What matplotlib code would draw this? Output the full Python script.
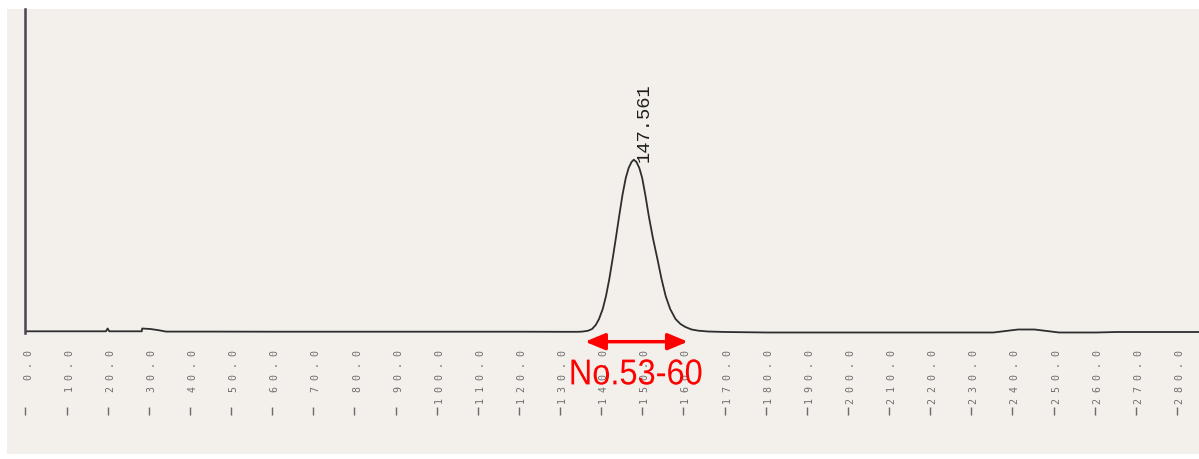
import numpy as np
import matplotlib.pyplot as plt
from matplotlib.patches import Rectangle, PathPatch
from matplotlib.textpath import TextPath
from matplotlib.font_manager import FontProperties
from matplotlib.transforms import (Affine2D, ScaledTranslation, blended_transform_factory,
                                   offset_copy)

# chromatogram trace (time in min, signal in arbitrary units)
time_min = [-0.5, 10.0, 19.2, 19.6, 20.0, 27.9, 28.0, 30.0, 32.0, 33.8, 45.0,
            60.0, 80.0, 100.0, 120.0, 130.0, 134.0, 135.0, 136.4, 137.4, 138.3,
            139.1, 140.0, 140.8, 141.6, 142.4, 143.2, 144.0, 144.8, 145.6, 146.3,
            147.0, 147.561, 148.2, 148.9, 149.6, 150.4, 151.2, 152.2, 153.3, 154.3,
            155.3, 156.4, 157.7, 158.9, 160.1, 161.6, 163.3, 165.6, 170.0, 180.0,
            200.0, 230.0, 235.0, 238.0, 241.0, 245.0, 248.0, 251.0, 260.0, 265.0,
            286.0]
signal = [0.7, 0.7, 0.7, 3.5, 0.7, 0.7, 3.5, 3.0, 1.8, 0.4, 0.4,
          0.3, 0.3, 0.3, 0.3, 0.2, 0.2, 0.4, 1.2, 3.0, 7.0,
          13.0, 23.0, 36.0, 53.0, 73.0, 94.0, 116.0, 137.0, 154.0, 164.0,
          170.0, 172.3, 170.0, 164.0, 154.0, 136.0, 116.0, 94.0, 73.0, 53.0,
          36.0, 23.0, 13.0, 8.0, 5.0, 2.5, 1.3, 0.5, 0.0, -0.5,
          -0.5, -0.5, -0.5, 1.0, 2.5, 2.5, 1.0, -0.5, -0.5, 0.0,
          0.0]

tick_values = list(range(0, 281, 10))
tick_labels = [f"{v:.1f}" for v in tick_values]

peak_time = 147.561
fraction_start, fraction_end = 135.7, 160.7
fraction_label = "No.53-60"

fig = plt.figure(figsize=(11.99, 4.6), dpi=100)
fig.patch.set_facecolor("white")
# scanned paper
fig.patches.append(Rectangle((7 / 1199, 5 / 460), 1.0, 445 / 460, transform=fig.transFigure,
                             facecolor="#f3f0eb", edgecolor="none", zorder=-5))

ax = fig.add_axes([25 / 1199, 124 / 460, 1 - 25 / 1199, 326 / 460])
ax.set_facecolor("none")
ax.plot(time_min, signal, color="#2e2e2e", lw=1.3)
ax.set_xlim(-0.49, 285.0)
ax.set_ylim(-3, 323)

for s in ["top", "right", "bottom"]:
    ax.spines[s].set_visible(False)
ax.spines["left"].set_color("#4b4453")
ax.spines["left"].set_linewidth(1.8)
ax.spines["left"].set_bounds(-0.5, 323)
ax.set_xticks([])
ax.set_yticks([])

blend = blended_transform_factory(ax.transData, ax.transAxes)
label_tr = offset_copy(blend, fig=fig, x=1.1, y=0, units="points")
mark_tr = offset_copy(blend, fig=fig, x=-1.1, y=0, units="points")
for v, lab in zip(tick_values, tick_labels):
    ax.text(v, -0.043, " ".join(lab), rotation=90, ha="center", va="top",
            family="DejaVu Sans Mono", fontsize=7.2, color="#6e6e6e", transform=label_tr,
            clip_on=False)
ax.vlines(tick_values, -0.221, -0.244, transform=mark_tr, colors="#6a6a6a", lw=1.0, clip_on=False)

# retention time of the main peak
peak_height = max(signal)
ax.annotate(f"{peak_time:.3f}", xy=(peak_time, peak_height), xytext=(1, -1),
            textcoords="offset points", rotation=90, ha="left", va="bottom",
            family="Liberation Mono", fontsize=13.5, color="#1e1e1e")

# collected fractions
ax.annotate("", xy=(fraction_start, -0.0205), xytext=(fraction_end, -0.0205), xycoords=blend,
            textcoords=blend, annotation_clip=False,
            arrowprops=dict(arrowstyle="<|-|>,head_length=0.6,head_width=0.25", color="red",
                            lw=2.5, shrinkA=0, shrinkB=0, mutation_scale=20), zorder=5)

tp = TextPath((0, 0), fraction_label, size=1, prop=FontProperties(family="Liberation Sans"))
bb = tp.get_extents()
label_trans = (Affine2D().translate(-bb.x0 - bb.width / 2, -bb.y0 - bb.height / 2)
               .scale(130 / bb.width, 25.5 / bb.height)
               + ScaledTranslation((fraction_start + fraction_end) / 2, -0.1135, blend))
ax.add_patch(PathPatch(tp, transform=label_trans, facecolor="red", edgecolor="none",
                       zorder=6, clip_on=False))

fig.savefig("out.png", dpi=100)
